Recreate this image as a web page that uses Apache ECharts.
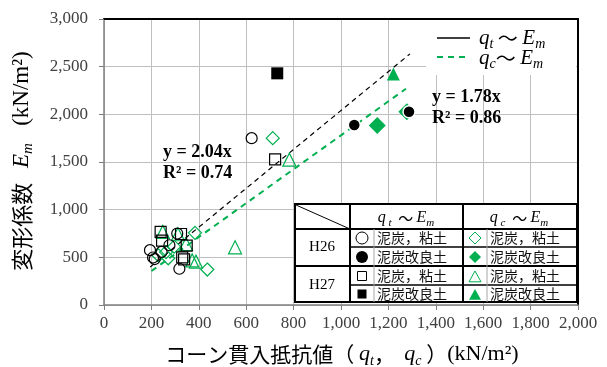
<!DOCTYPE html>
<html><head><meta charset="utf-8">
<script src="https://cdn.jsdelivr.net/npm/echarts@6/dist/echarts.min.js"></script>
<style>html,body{margin:0;padding:0;background:#fff}#c{width:607px;height:367px}</style>
</head><body><div id="c"></div>
<script>
// ---- data ----
const xTicks = [0, 200, 400, 600, 800, 1000, 1200, 1400, 1600, 1800, 2000];
const yTicks = [0, 500, 1000, 1500, 2000, 2500, 3000];

// q_t ~ E_m (black)
const h26ClayQt = [[194,575],[207,498],[214,482],[243,557],[276,627],[309,750],[318,380],[623,1750]];
const h26ImpQt  = [[1056,1888],[1287,2027]];
const h27ClayQt = [[239,767],[245,675],[325,745],[349,622],[330,500],[338,478],[722,1527]];
const h27ImpQt  = [[731,2430]];
// q_c ~ E_m (green)
const h26ClayQc = [[230,520],[262,555],[271,490],[296,612],[384,757],[436,372],[712,1750]];
const h26ImpQc  = [[1153,1884],[1278,2027]];
const h27ClayQc = [[248,767],[312,742],[346,640],[372,468],[388,455],[553,605],[782,1525]];
const h27ImpQc  = [[1221,2423]];
// trend lines (end points)
const trendQt = [[195,398],[1291,2634]];
const trendQc = [[200,356],[1274,2268]];

const GREEN = '#00b050';
const SERIF = '"Liberation Serif","Times New Roman",serif';
const JP = '"Noto Sans CJK JP",sans-serif';

function sc(name, data, symbol, size, color, filled, extra) {
  return Object.assign({
    name, type: 'scatter', data, symbol, symbolSize: size,
    itemStyle: filled ? {color: color, opacity: 1} : {color: 'rgba(0,0,0,0)', borderColor: color, borderWidth: 1.2, opacity: 1},
    emphasis: {disabled: true}, z: 3
  }, extra || {});
}

const chart = echarts.init(document.getElementById('c'), null, {renderer: 'canvas'});
const fmt = v => v.toLocaleString('en-US');

function richTitle(j, r, s) {
  return {
    j: {fontFamily: JP, fontSize: j, lineHeight: 28, color: '#333'},
    r: {fontFamily: SERIF, fontSize: r, lineHeight: 28, color: '#333'},
    i: {fontFamily: SERIF, fontStyle: 'italic', fontSize: r, lineHeight: 28, color: '#333'},
    s: {fontFamily: SERIF, fontStyle: 'italic', fontSize: s, lineHeight: 28, verticalAlign: 'bottom', color: '#333'}
  };
}
function richSmall(sz, sub) {
  return {
    i: {fontFamily: SERIF, fontStyle: 'italic', fontSize: sz, lineHeight: sz + 6, color: '#000'},
    s: {fontFamily: SERIF, fontStyle: 'italic', fontSize: sub, lineHeight: sz + 6, verticalAlign: 'bottom', color: '#000'},
    t: {fontFamily: JP, fontSize: sz - 1, lineHeight: sz + 6, color: '#000'}
  };
}

const g = [];
// top-right legend box
g.push({type: 'rect', z: 50, shape: {x: 426, y: 20, width: 150, height: 55}, style: {fill: '#fff'}});
g.push({type: 'line', z: 51, shape: {x1: 437, y1: 38, x2: 470, y2: 38}, style: {stroke: '#000', lineWidth: 1.3}});
g.push({type: 'line', z: 51, shape: {x1: 437, y1: 57, x2: 470, y2: 57}, style: {stroke: GREEN, lineWidth: 2, lineDash: [6, 5]}});
g.push({type: 'text', z: 51, x: 479, y: 38, style: {text: '{i|q}{s|t}{t| ～ }{i|E}{s|m}', rich: richSmall(21, 14), verticalAlign: 'middle'}});
g.push({type: 'text', z: 51, x: 479, y: 58, style: {text: '{i|q}{s|c}{t|～ }{i|E}{s|m}', rich: richSmall(21, 14), verticalAlign: 'middle'}});

// regression annotations
const annoStyle = {fontFamily: SERIF, fontWeight: 'bold', fontSize: 18, fill: '#000', verticalAlign: 'middle'};
g.push({type: 'text', z: 51, x: 163, y: 152, style: Object.assign({text: 'y = 2.04x'}, annoStyle)});
g.push({type: 'text', z: 51, x: 163, y: 173, style: Object.assign({text: 'R² = 0.74'}, annoStyle)});
g.push({type: 'text', z: 51, x: 432, y: 97, style: Object.assign({text: 'y = 1.78x'}, annoStyle)});
g.push({type: 'text', z: 51, x: 432, y: 118, style: Object.assign({text: 'R² = 0.86'}, annoStyle)});

// legend table
const T = {x0: 295, x1: 350, x2: 463, x3: 577, y0: 204, y1: 229, y2: 247, y3: 266, y4: 285, y5: 302};
g.push({type: 'rect', z: 50, shape: {x: T.x0, y: T.y0, width: T.x3 - T.x0, height: T.y5 - T.y0}, style: {fill: '#fff', stroke: '#000', lineWidth: 2}});
function L(x1, y1, x2, y2, c, w) { g.push({type: 'line', z: 51, shape: {x1, y1, x2, y2}, style: {stroke: c, lineWidth: w}}); }
L(T.x0, T.y1, T.x3, T.y1, '#000', 2);
L(T.x0, T.y3, T.x3, T.y3, '#000', 2);
L(T.x1, T.y2, T.x3, T.y2, '#000', 1.5);
L(T.x1, T.y4, T.x3, T.y4, '#000', 1.5);
L(T.x1, T.y0, T.x1, T.y5, '#000', 2);
L(T.x2, T.y0, T.x2, T.y5, '#000', 2);
L(374, T.y1, 374, T.y5, '#a6a6a6', 1);
L(487, T.y1, 487, T.y5, '#a6a6a6', 1);
L(T.x0 + 1, T.y0 + 1, T.x1, T.y1, '#000', 1);
g.push({type: 'text', z: 52, x: 406, y: 218, style: {text: '{i|q}{s| t}{t|  ～ }{i|E}{s|m}', rich: richSmall(16, 11), align: 'center', verticalAlign: 'middle'}});
g.push({type: 'text', z: 52, x: 519, y: 218, style: {text: '{i|q}{s| c}{t|  ～ }{i|E}{s|m}', rich: richSmall(16, 11), align: 'center', verticalAlign: 'middle'}});
const hStyle = {fontFamily: SERIF, fontSize: 15, fill: '#000', align: 'center', verticalAlign: 'middle'};
g.push({type: 'text', z: 52, x: 322, y: 247, style: Object.assign({text: 'H26'}, hStyle)});
g.push({type: 'text', z: 52, x: 322, y: 285, style: Object.assign({text: 'H27'}, hStyle)});
const rows = [238, 257, 276, 294];
const labels = ['泥炭，粘土', '泥炭改良土', '泥炭，粘土', '泥炭改良土'];
const cStyle = {fontFamily: JP, fontSize: 14, fill: '#111', verticalAlign: 'middle'};
rows.forEach((y, k) => {
  g.push({type: 'text', z: 52, x: 377, y: y, style: Object.assign({text: labels[k]}, cStyle)});
  g.push({type: 'text', z: 52, x: 490, y: y, style: Object.assign({text: labels[k]}, cStyle)});
});
// legend markers
g.push({type: 'circle', z: 52, shape: {cx: 362, cy: rows[0], r: 6}, style: {fill: 'none', stroke: '#000', lineWidth: 1}});
g.push({type: 'circle', z: 52, shape: {cx: 362, cy: rows[1], r: 6}, style: {fill: '#000'}});
g.push({type: 'rect', z: 52, shape: {x: 357.5, y: rows[2] - 4.5, width: 9, height: 9}, style: {fill: 'none', stroke: '#000', lineWidth: 1}});
g.push({type: 'rect', z: 52, shape: {x: 357.5, y: rows[3] - 4.5, width: 9, height: 9}, style: {fill: '#000'}});
function dia(cx, cy, r) { return [[cx, cy - r], [cx + r, cy], [cx, cy + r], [cx - r, cy]]; }
function tri(cx, cy, r) { return [[cx, cy - r], [cx + r, cy + r * 0.8], [cx - r, cy + r * 0.8]]; }
g.push({type: 'polygon', z: 52, shape: {points: dia(475, rows[0], 6)}, style: {fill: 'none', stroke: GREEN, lineWidth: 1}});
g.push({type: 'polygon', z: 52, shape: {points: dia(475, rows[1], 6)}, style: {fill: GREEN}});
g.push({type: 'polygon', z: 52, shape: {points: tri(475, rows[2] + 1, 6)}, style: {fill: 'none', stroke: GREEN, lineWidth: 1}});
g.push({type: 'polygon', z: 52, shape: {points: tri(475, rows[3] + 1, 6)}, style: {fill: GREEN}});

// axis titles
g.push({type: 'text', z: 52, x: 342, y: 354, style: {
  text: '{j|コーン貫入抵抗値（ }{i|q}{s|t}{j|，  }{i|q}{s|c}{j| ）}{r|(kN/m²)}', rich: richTitle(21, 22, 14), align: 'center', verticalAlign: 'middle'}});
g.push({type: 'text', z: 52, x: 22, y: 161, rotation: Math.PI / 2, style: {
  text: '{j|変形係数   }{i|E}{s|m}{r|   (kN/m²)}', rich: richTitle(22, 23, 15), align: 'center', verticalAlign: 'middle'}});

const option = {
  animation: false,
  backgroundColor: '#fff',
  grid: {left: 104, right: 29, top: 19, bottom: 62, outerBoundsMode: 'none', containLabel: false},
  xAxis: [{
    type: 'value', min: xTicks[0], max: xTicks[xTicks.length - 1], interval: 200, position: 'bottom',
    axisLine: {show: true, onZero: false, lineStyle: {color: '#808080', width: 1.5}},
    axisTick: {show: true, length: 5, lineStyle: {color: '#808080'}},
    axisLabel: {formatter: fmt, fontFamily: SERIF, fontSize: 17, color: '#404040', margin: 10, hideOverlap: false},
    splitLine: {show: true, lineStyle: {color: '#bfbfbf', width: 1}}
  }, {
    type: 'value', min: 0, max: 2000, position: 'top',
    axisLine: {show: true, onZero: false, lineStyle: {color: '#000', width: 2}},
    axisTick: {show: false}, axisLabel: {show: false}, splitLine: {show: false}
  }],
  yAxis: [{
    type: 'value', min: yTicks[0], max: yTicks[yTicks.length - 1], interval: 500, position: 'left',
    axisLine: {show: true, onZero: false, lineStyle: {color: '#808080', width: 1.5}},
    axisTick: {show: true, length: 5, lineStyle: {color: '#808080'}},
    axisLabel: {formatter: fmt, fontFamily: SERIF, fontSize: 17, color: '#404040', margin: 16},
    splitLine: {show: true, lineStyle: {color: '#bfbfbf', width: 1}}
  }, {
    type: 'value', min: 0, max: 3000, position: 'right',
    axisLine: {show: true, onZero: false, lineStyle: {color: '#000', width: 2}},
    axisTick: {show: false}, axisLabel: {show: false}, splitLine: {show: false}
  }],
  series: [
    {name: 'trendQt', type: 'line', data: trendQt, symbol: 'none', z: 2,
     lineStyle: {color: '#000', width: 1.2, type: [5, 4]}, emphasis: {disabled: true}},
    {name: 'trendQc', type: 'line', data: trendQc, symbol: 'none', z: 2,
     lineStyle: {color: GREEN, width: 2, type: [6, 5]}, emphasis: {disabled: true}},
    sc('H26 qc clay', h26ClayQc, 'diamond', 13, GREEN, false),
    sc('H27 qc clay', h27ClayQc, 'triangle', 13, GREEN, false),
    sc('H26 qc imp', h26ImpQc, 'diamond', 17, GREEN, true),
    sc('H27 qc imp', h27ImpQc, 'triangle', 13, GREEN, true),
    sc('H26 qt clay', h26ClayQt, 'circle', 11, '#000', false),
    sc('H27 qt clay', h27ClayQt, 'rect', 11, '#000', false),
    sc('H26 qt imp', h26ImpQt, 'circle', 12, '#000', true, {itemStyle: {color: '#000', borderColor: '#fff', borderWidth: 1.5, opacity: 1}}),
    sc('H27 qt imp', h27ImpQt, 'rect', 12, '#000', true)
  ],
  graphic: g
};
chart.setOption(option);
</script>
</body></html>
